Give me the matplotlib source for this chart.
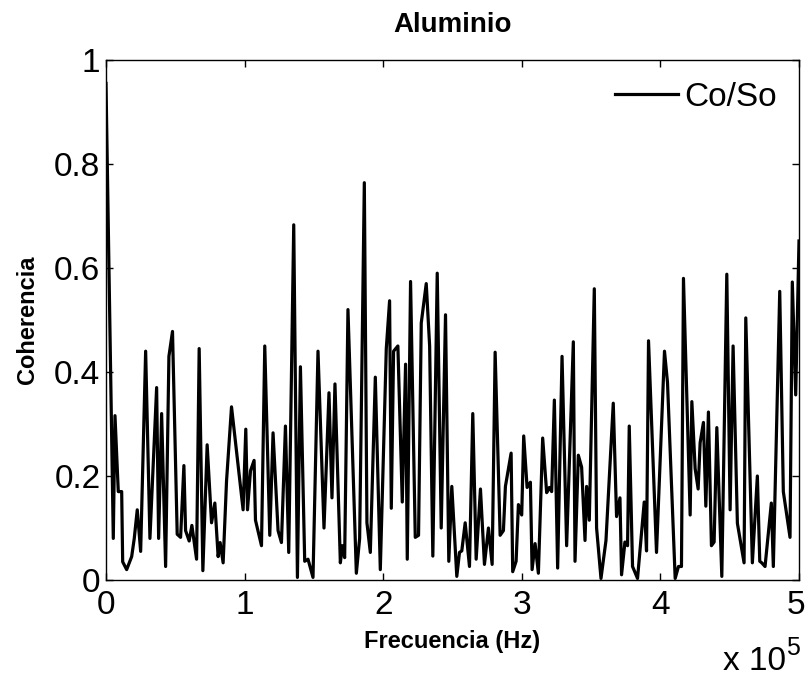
import matplotlib
matplotlib.use("Agg")
import matplotlib.pyplot as plt
import matplotlib.transforms as mtransforms
import numpy as np

plt.rcParams['font.family'] = ['Liberation Sans', 'DejaVu Sans']

title = "Aluminio"
xlabel = "Frecuencia (Hz)"
ylabel = "Coherencia"
legend_label = "Co/So"

freq_hz = [0, 5260, 6480, 8860, 11310, 12030, 14910, 18520, 20390, 22550, 25000, 28600,
           31700, 36530, 37970, 40130, 43010, 45390, 47980, 51370, 53820, 56200, 57420,
           60010, 61960, 65350, 67220, 69880, 72980, 76150, 78530, 80910, 82350, 84510,
           86960, 90560, 98920, 100860, 102090, 104250, 106840, 107850, 112180, 114550,
           118160, 120530, 124140, 126580, 129470, 131840, 135450, 138110, 140270, 143370,
           145750, 149350, 152950, 157280, 160880, 163040, 165200, 169090, 170530, 172190,
           174570, 180620, 183000, 186380, 188260, 190710, 194310, 197910, 202230, 204610,
           205840, 207490, 210590, 213760, 216140, 217360, 219740, 223130, 225500, 227450,
           231050, 233500, 235810, 238980, 241860, 244960, 247330, 249500, 253100, 255040,
           256700, 259150, 262250, 264630, 267070, 270170, 273050, 275940, 278600, 280760,
           284370, 286740, 288180, 292290, 293440, 295890, 297550, 299930, 301370, 303820,
           306200, 307420, 309580, 311960, 315060, 317940, 319880, 321540, 323490, 325860,
           329030, 332350, 337180, 338400, 340780, 343160, 345610, 346760, 348700, 352310,
           353960, 357130, 360730, 365990, 368370, 370820, 371970, 374420, 376300, 377520,
           379900, 383500, 388330, 389990, 391430, 397190, 402950, 405120, 410660, 413040,
           415200, 416640, 421470, 422690, 425070, 427230, 428670, 431050, 432780, 434650,
           436820, 438760, 440710, 444310, 447910, 450290, 452450, 455550, 460370, 461600,
           466350, 469960, 471690, 473130, 475500, 480040, 481480, 486100, 488690, 493520,
           495170, 497620, 500000]

coherencia = [0.955, 0.08, 0.316, 0.17, 0.17, 0.035, 0.02, 0.045, 0.08, 0.135, 0.055, 0.44,
              0.08, 0.37, 0.08, 0.32, 0.026, 0.43, 0.478, 0.088, 0.082, 0.22, 0.095,
              0.075, 0.105, 0.04, 0.445, 0.018, 0.26, 0.11, 0.148, 0.045, 0.072, 0.033,
              0.19, 0.333, 0.135, 0.29, 0.135, 0.21, 0.23, 0.115, 0.066, 0.45,
              0.086, 0.283, 0.095, 0.072, 0.296, 0.053, 0.683, 0.005, 0.41, 0.036,
              0.04, 0.005, 0.44, 0.10, 0.36, 0.158, 0.377, 0.033, 0.066, 0.043,
              0.52, 0.013, 0.08, 0.764, 0.11, 0.053, 0.39, 0.02, 0.445, 0.537,
              0.138, 0.44, 0.45, 0.15, 0.415, 0.04, 0.574, 0.082, 0.086, 0.494,
              0.57, 0.45, 0.046, 0.59, 0.10, 0.51, 0.036, 0.18, 0.007, 0.053,
              0.056, 0.11, 0.026, 0.32, 0.04, 0.175, 0.03, 0.10, 0.03, 0.438,
              0.086, 0.095, 0.18, 0.244, 0.016, 0.036, 0.145, 0.125, 0.277, 0.178,
              0.188, 0.02, 0.07, 0.013, 0.273, 0.168, 0.178, 0.17, 0.346, 0.023,
              0.43, 0.066, 0.458, 0.036, 0.24, 0.217, 0.076, 0.18, 0.115, 0.56,
              0.10, 0.003, 0.076, 0.34, 0.122, 0.158, 0.01, 0.073, 0.066, 0.296,
              0.026, 0.003, 0.15, 0.056, 0.46, 0.053, 0.44, 0.38, 0.003, 0.026,
              0.026, 0.58, 0.125, 0.343, 0.214, 0.175, 0.264, 0.303, 0.142, 0.323,
              0.066, 0.073, 0.293, 0.007, 0.588, 0.135, 0.45, 0.109, 0.033, 0.504,
              0.033, 0.20, 0.036, 0.033, 0.026, 0.148, 0.026, 0.555, 0.17, 0.082,
              0.573, 0.356, 0.652]

xtick_vals = [0, 1e5, 2e5, 3e5, 4e5, 5e5]
xtick_labels = ["0", "1", "2", "3", "4", "5"]
ytick_vals = [0, 0.2, 0.4, 0.6, 0.8, 1.0]
ytick_labels = ["0", "0.2", "0.4", "0.6", "0.8", "1"]

W, H = 807, 677
fig = plt.figure(figsize=(W / 100, H / 100), dpi=100)
ax = fig.add_axes([106 / W, 1 - 580 / H, (799 - 106) / W, (580 - 60) / H])

ax.plot(freq_hz, coherencia, color='black', linewidth=2.3, label=legend_label)
ax.set_xlim(0, 5e5)
ax.set_ylim(0, 1)
ax.set_xticks(xtick_vals)
ax.set_xticklabels(xtick_labels)
ax.set_yticks(ytick_vals)
ax.set_yticklabels(ytick_labels)
ax.tick_params(direction='in', length=5, width=1, top=True, right=True,
               labelsize=24, pad=4)
ax.tick_params(axis='x', pad=7)
for s in ax.spines.values():
    s.set_linewidth(1)
    s.set_color('black')

# nudge the last x tick label slightly left so it stays inside the figure
last_lbl = ax.get_xticklabels()[-1]
last_lbl.set_transform(last_lbl.get_transform() +
                       mtransforms.ScaledTranslation(-3 / 100, 0, fig.dpi_scale_trans))

ax.set_title(title, fontsize=20, fontweight='bold', pad=20)
ax.set_xlabel(xlabel, fontsize=17, fontweight='bold', labelpad=7)
ax.set_ylabel(ylabel, fontsize=17, fontweight='bold', labelpad=11)

leg = ax.legend(loc='upper right', frameon=False, fontsize=24,
                handlelength=1.9, handletextpad=0.2, borderaxespad=0.25,
                bbox_to_anchor=(1.0, 1.0))

fig.text(723 / W, 1 - 670 / H, "x 10", fontsize=24, ha='left', va='baseline')
fig.text(786 / W, 1 - 655 / H, "5", fontsize=18, ha='left', va='baseline')

fig.savefig("out.png", dpi=100)
